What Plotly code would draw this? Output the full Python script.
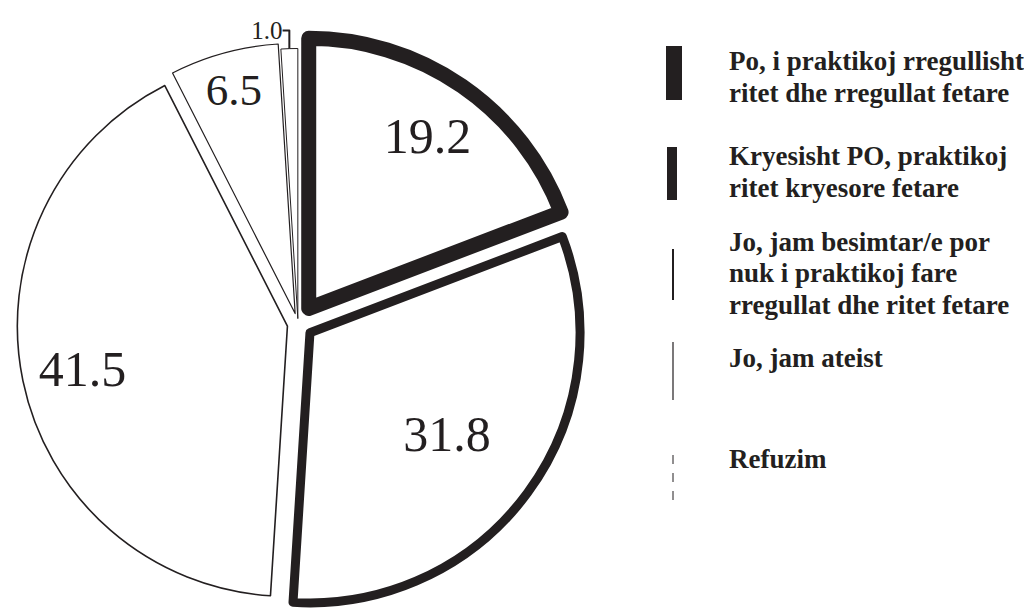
import plotly.graph_objects as go

# data
categories = [
    "Po, i praktikoj rregullisht<br>ritet dhe rregullat fetare",
    "Kryesisht PO, praktikoj<br>ritet kryesore fetare",
    "Jo, jam besimtar/e por<br>nuk i praktikoj fare<br>rregullat dhe ritet fetare",
    "Jo, jam ateist",
    "Refuzim",
]
values = [19.2, 31.8, 41.5, 6.5, 1.0]
value_labels = ["19.2", "31.8", "41.5", "6.5", "1.0"]

INK = "#231f20"
W, H = 1032, 613
OFF = 8  # page body margin


def px(x):
    # reference pixel x -> paper x
    return (x - OFF) / W


def py(y):
    # reference pixel y (from top) -> paper y
    return (H - (y - OFF)) / H


line_w = [15, 9, 1.6, 1.2, 1]
pulls = [0.07, 0.055, 0.04, 0.04, 0.02]
dom = dict(x=[px(9), px(587)], y=[py(613), py(35)])

fig = go.Figure()
# slices with outlines
fig.add_trace(go.Pie(
    values=values, labels=categories,
    sort=False, direction="clockwise", rotation=0, pull=pulls,
    marker=dict(colors=["white"] * 5, line=dict(color=INK, width=line_w)),
    textinfo="none", hoverinfo="skip", showlegend=False, domain=dom,
))

# value labels: transparent rings of different depth so each label
# sits at roughly the same radius as in the original
label_rings = [(0.55, [0, 2, 4]), (0.26, [1]), (0.72, [3])]
for hole, idx in label_rings:
    txt = [value_labels[k] if k in idx else "" for k in range(len(values))]
    fig.add_trace(go.Pie(
        values=values, labels=categories, text=txt, textinfo="text",
        sort=False, direction="clockwise", rotation=0, pull=pulls, hole=hole,
        marker=dict(colors=["rgba(0,0,0,0)"] * 5, line=dict(width=0)),
        textposition=["inside", "inside", "inside", "inside", "outside"],
        insidetextorientation="horizontal",
        textfont=dict(family="Liberation Serif", size=50, color=INK),
        outsidetextfont=dict(family="Liberation Serif", size=25, color=INK),
        hoverinfo="skip", showlegend=False, domain=dom,
    ))

# hand-made legend: vertical bars styled like the slice outlines
bar_top = [46, 147, 249, 342, 447]
bar_bot = [100, 200, 300, 400, 500]
bar_x = [674, 672, 673, 673, 673]
bar_w = [16, 10, 2, 1.2, 1]
line_mid = [[65, 97], [160, 192], [246, 277, 309], [362], [463]]
FS = 27

shapes = []
for i in range(5):
    if i < 2:
        shapes.append(dict(type="rect", xref="paper", yref="paper",
                           x0=px(bar_x[i] - bar_w[i] / 2), x1=px(bar_x[i] + bar_w[i] / 2),
                           y0=py(bar_bot[i]), y1=py(bar_top[i]),
                           fillcolor=INK, line=dict(width=0)))
    else:
        shapes.append(dict(type="line", xref="paper", yref="paper",
                           x0=px(bar_x[i]), x1=px(bar_x[i]),
                           y0=py(bar_bot[i]), y1=py(bar_top[i]),
                           line=dict(color=INK, width=bar_w[i],
                                     dash="dash" if i == 4 else "solid")))

annotations = []
for i, cat in enumerate(categories):
    for line, mid in zip(cat.split("<br>"), line_mid[i]):
        annotations.append(dict(
            xref="paper", yref="paper", x=px(727), y=py(mid - 4),
            xanchor="left", yanchor="middle", align="left", showarrow=False,
            text="<b>" + line + "</b>",
            font=dict(family="Liberation Serif", size=FS, color=INK),
        ))

fig.update_layout(
    width=W, height=H,
    margin=dict(l=0, r=0, t=0, b=0, autoexpand=False),
    paper_bgcolor="white",
    plot_bgcolor="white",
    shapes=shapes,
    annotations=annotations,
)

fig.write_html("out.html")
